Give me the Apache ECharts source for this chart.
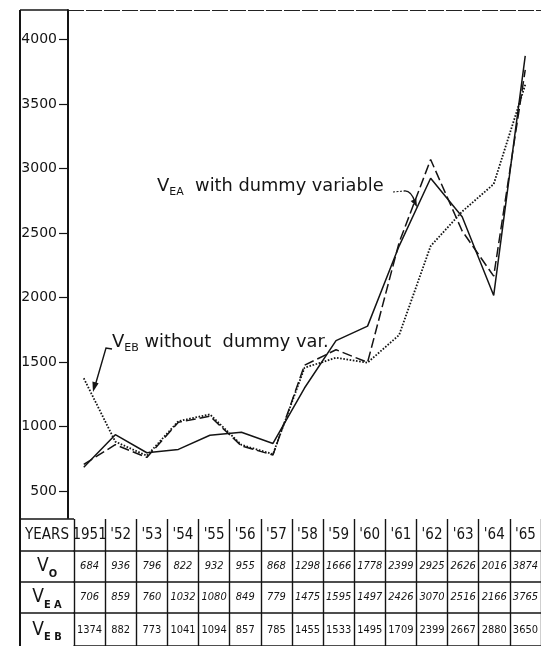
<!DOCTYPE html>
<html><head><meta charset="utf-8">
<script src="https://cdn.jsdelivr.net/npm/echarts@6/dist/echarts.min.js"></script>
<style>html,body{margin:0;padding:0;background:#fff}#c{width:541px;height:646px}</style>
</head><body><div id="c"></div>
<script>
const years = ['1951', "'52", "'53", "'54", "'55", "'56", "'57", "'58", "'59", "'60", "'61", "'62", "'63", "'64", "'65"];
const v0  = [684, 936, 796, 822, 932, 955, 868, 1298, 1666, 1778, 2399, 2925, 2626, 2016, 3874];
const vEA = [706, 859, 760, 1032, 1080, 849, 779, 1475, 1595, 1497, 2426, 3070, 2516, 2166, 3765];
const vEB = [1374, 882, 773, 1041, 1094, 857, 785, 1455, 1533, 1495, 1709, 2399, 2667, 2880, 3650];
const yTicks = [500, 1000, 1500, 2000, 2500, 3000, 3500, 4000];
const rowHeads = ['YEARS', '{v|V}{s|O}', '{v|V}{s|E A}', '{v|V}{s|E B}'];

const FC = '"DejaVu Sans Condensed","DejaVu Sans",sans-serif';
const FF = '"DejaVu Sans",sans-serif';
const INK = '#141414';
const rowTops = [519, 551, 582, 613];
const rowHs = [32, 31, 31, 40];
const rowData = [years, v0.map(String), vEA.map(String), vEB.map(String)];

const chart = echarts.init(document.getElementById('c'), null, {renderer: 'canvas'});

const grids = [{left: 68, top: 10, width: 478, height: 508}];
const xAxes = [{
  gridIndex: 0, type: 'category', data: years, boundaryGap: true,
  axisLine: {show: false}, axisTick: {show: false}, axisLabel: {show: false}, splitLine: {show: false}
}];
const yAxes = [{
  gridIndex: 0, type: 'value', min: 290, max: 4230,
  axisLine: {show: true, lineStyle: {color: INK, width: 2}},
  axisTick: {show: true, customValues: yTicks, length: 9, lineStyle: {color: INK, width: 1.2}},
  axisLabel: {customValues: yTicks, margin: 11, fontSize: 14, fontFamily: FF, color: INK,
              formatter: v => String(v),
              verticalAlign: 'middle', padding: [0, 0, 8, 0]},
  splitLine: {show: false}
}];

rowData.forEach((d, i) => {
  grids.push({left: 74, top: rowTops[i], width: 15 * 31.7, height: rowHs[i]});
  xAxes.push({
    gridIndex: i + 1, type: 'category', data: d, position: 'top', boundaryGap: true,
    axisLine: {show: true, lineStyle: {color: INK, width: 1.5}},
    axisTick: {show: false},
    axisLabel: {inside: true, interval: 0, margin: (i === 3 ? 17 : rowHs[i] / 2),
                verticalAlign: 'middle', fontFamily: FC, color: INK,
                fontSize: i === 0 ? 15 : 11, fontStyle: (i === 1 || i === 2) ? 'italic' : 'normal',
                formatter: v => v},
    splitLine: {show: true, interval: 0, lineStyle: {color: INK, width: 1.4}}
  });
  yAxes.push({gridIndex: i + 1, type: 'value', show: false});
});

const graphics = [
  {type: 'line', shape: {x1: 20, y1: 10, x2: 20, y2: 646}, style: {stroke: INK, lineWidth: 2}},
  {type: 'line', shape: {x1: 20, y1: 10, x2: 68, y2: 10}, style: {stroke: INK, lineWidth: 1.5}},
  {type: 'line', shape: {x1: 68, y1: 10.5, x2: 541, y2: 10.5}, style: {stroke: '#222', lineWidth: 1, lineDash: [16, 2]}}
];
rowTops.forEach(t => graphics.push({type: 'line', shape: {x1: 20, y1: t, x2: 74, y2: t}, style: {stroke: INK, lineWidth: 1.5}}));
rowHeads.forEach((h, i) => {
  graphics.push({
    type: 'text', x: 47, y: rowTops[i] + (i === 3 ? 17 : rowHs[i] / 2),
    style: {
      text: h, align: 'center', verticalAlign: 'middle', fill: INK, fontFamily: FC,
      fontSize: i === 0 ? 15 : 18,
      rich: {
        v: {fontSize: 19, fontFamily: FC, fill: INK, lineHeight: 26, verticalAlign: 'middle'},
        s: {fontSize: 11, fontFamily: FC, fill: INK, lineHeight: 26, verticalAlign: 'bottom', fontWeight: 'bold'}
      }
    }
  });
});

// annotations
const richLab = {
  v: {fontSize: 18, fontFamily: FF, fill: INK, lineHeight: 24, verticalAlign: 'middle'},
  s: {fontSize: 11, fontFamily: FF, fill: INK, lineHeight: 24, verticalAlign: 'bottom'},
  t: {fontSize: 17.8, fontFamily: FF, fill: INK, lineHeight: 24, verticalAlign: 'middle'}
};
graphics.push({type: 'text', x: 157, y: 186, style: {text: '{v|V}{s|EA}{t|  with dummy variable}', verticalAlign: 'middle', rich: richLab}});
graphics.push({type: 'text', x: 112, y: 342, style: {text: '{v|V}{s|EB}{t| without  dummy var.}', verticalAlign: 'middle', rich: richLab}});
graphics.push({type: 'line', shape: {x1: 393, y1: 192, x2: 404, y2: 191}, style: {stroke: INK, lineWidth: 1, lineDash: [2, 1.5]}});
graphics.push({type: 'bezierCurve', shape: {x1: 404, y1: 191, cpx1: 411, cpy1: 190, x2: 415, y2: 202}, style: {stroke: INK, lineWidth: 1.3, fill: null}});
graphics.push({type: 'polygon', shape: {points: [[417, 207], [416.3, 198.5], [410.7, 201.1]]}, style: {fill: INK}});
graphics.push({type: 'polyline', shape: {points: [[112, 349], [106, 348], [95, 386]]}, style: {stroke: INK, lineWidth: 1.4, fill: null}});
graphics.push({type: 'polygon', shape: {points: [[93, 392], [98.6, 383.2], [92.4, 381.4]]}, style: {fill: INK}});

const lineSeries = (name, data, type, w) => ({
  name, type: 'line', xAxisIndex: 0, yAxisIndex: 0, data, symbol: 'none', silent: true,
  lineStyle: {color: INK, width: w, type}, animation: false
});

chart.setOption({
  animation: false,
  backgroundColor: '#fff',
  grid: grids, xAxis: xAxes, yAxis: yAxes,
  series: [
    lineSeries('V0', v0, 'solid', 1.5),
    lineSeries('VEA', vEA, [10, 4], 1.5),
    lineSeries('VEB', vEB, [1.6, 1.6], 1.8)
  ],
  graphic: graphics
});
</script></body></html>
